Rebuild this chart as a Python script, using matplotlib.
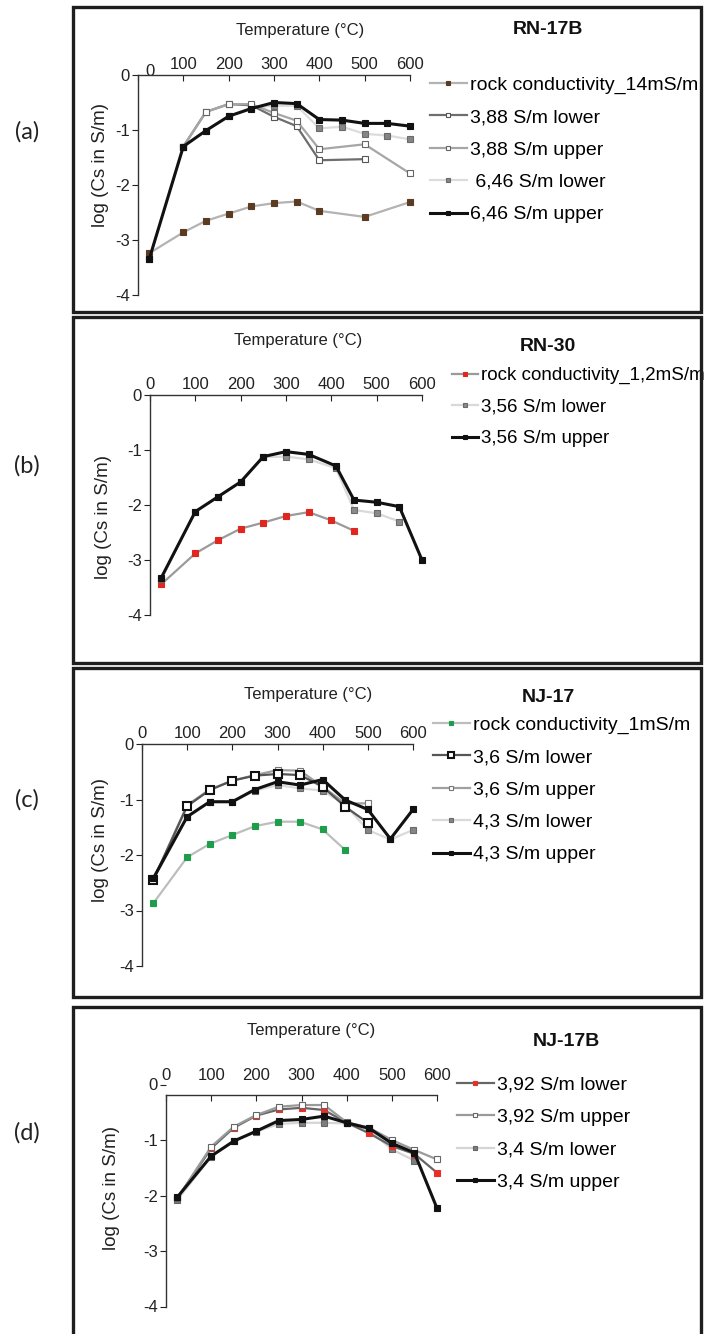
import matplotlib
matplotlib.use('Agg')
import matplotlib.pyplot as plt
from matplotlib.patches import Rectangle
from matplotlib.transforms import ScaledTranslation

plt.rcParams['font.family'] = ['Liberation Sans', 'DejaVu Sans']
plt.rcParams['axes.unicode_minus'] = False

# temperatures (°C)
temps = [25, 100, 150, 200, 250, 300, 350, 400, 450, 500, 550, 600]
temps_rn17b_rock = [25, 100, 150, 200, 250, 300, 350, 400, 500, 600]
temps_rn17b_388_low = [100, 150, 200, 250, 300, 350, 400, 500]
temps_rn17b_388_up = [100, 150, 200, 250, 300, 350, 400, 500, 600]
temps_rn30_356 = [25, 100, 150, 200, 250, 300, 350, 410, 450, 500, 550, 600]

# (a) RN-17B, log(Cs in S/m)
rn17b_rock = [-3.24, -2.86, -2.65, -2.52, -2.39, -2.33, -2.30, -2.47, -2.58, -2.31]
rn17b_388_low = [-1.30, -0.67, -0.53, -0.55, -0.76, -0.93, -1.55, -1.53]
rn17b_388_up = [-1.30, -0.67, -0.53, -0.53, -0.69, -0.83, -1.35, -1.26, -1.79]
rn17b_646_low = [-3.34, -1.30, -1.01, -0.75, -0.60, -0.56, -0.56, -0.97, -0.94, -1.07, -1.10, -1.17]
rn17b_646_up = [-3.34, -1.30, -1.01, -0.75, -0.61, -0.50, -0.52, -0.81, -0.82, -0.88, -0.88, -0.93]

# (b) RN-30
rn30_rock = [-3.44, -2.88, -2.64, -2.43, -2.32, -2.20, -2.13, -2.28, -2.47]
rn30_356_low = [-3.35, -2.12, -1.85, -1.58, -1.13, -1.12, -1.17, -1.33, -2.09, -2.15, -2.30]
rn30_356_up = [-3.32, -2.12, -1.85, -1.58, -1.12, -1.03, -1.08, -1.29, -1.91, -1.95, -2.03, -3.00]

# (c) NJ-17
nj17_rock = [-2.87, -2.04, -1.80, -1.64, -1.48, -1.40, -1.40, -1.54, -1.91]
nj17_36_low = [-2.45, -1.12, -0.83, -0.66, -0.57, -0.54, -0.56, -0.77, -1.13, -1.42]
nj17_36_up = [-2.45, -1.10, -0.82, -0.66, -0.56, -0.47, -0.48, -0.77, -1.07, -1.07]
nj17_43_low = [-2.45, -1.32, -1.05, -1.05, -0.84, -0.74, -0.80, -0.84, -1.10, -1.55, -1.72, -1.55]
nj17_43_up = [-2.42, -1.31, -1.04, -1.04, -0.82, -0.68, -0.74, -0.64, -1.01, -1.18, -1.71, -1.18]

# (d) NJ-17B
nj17b_392_low = [-2.05, -1.15, -0.78, -0.56, -0.45, -0.42, -0.46, -0.69, -0.88, -1.11, -1.25, -1.59]
nj17b_392_up = [-2.05, -1.12, -0.76, -0.55, -0.40, -0.37, -0.37, -0.68, -0.78, -1.00, -1.18, -1.35]
nj17b_34_low = [-2.08, -1.30, -1.02, -0.85, -0.71, -0.69, -0.69, -0.70, -0.82, -1.17, -1.37]
nj17b_34_up = [-2.03, -1.29, -1.02, -0.84, -0.65, -0.63, -0.57, -0.69, -0.79, -1.06, -1.23, -2.23]

xticks = [0, 100, 200, 300, 400, 500, 600]
yticks = [0, -1, -2, -3, -4]
ytick_labels = ['0', '-1', '-2', '-3', '-4']

W, H = 704, 1334
fig = plt.figure(figsize=(W / 100, H / 100), dpi=100)


def fx(x):
    return x / W


def fy(y):
    return 1 - y / H


def make_axes(left, right, top, bottom, xaxis_at=0, xpad=2):
    ax = fig.add_axes([fx(left), fy(bottom), (right - left) / W, (bottom - top) / H])
    ax.patch.set_alpha(0)
    ax.set_xlim(0, 600)
    ax.set_ylim(-4, 0)
    ax.xaxis.tick_top()
    ax.spines['right'].set_visible(False)
    ax.spines['bottom'].set_visible(False)
    for s in ('top', 'left'):
        ax.spines[s].set_color('#333333')
        ax.spines[s].set_linewidth(1.0)
    if xaxis_at != 0:
        ax.spines['top'].set_position(('data', xaxis_at))
        ax.spines['left'].set_bounds(-4, xaxis_at)
    ax.set_xticks(xticks)
    ax.set_yticks(yticks)
    ax.set_yticklabels(ytick_labels)
    ax.tick_params(axis='x', direction='in', length=4, pad=xpad, labelsize=12, colors='#222222')
    ax.tick_params(axis='y', direction='out', length=4, pad=2, labelsize=12, colors='#222222')
    return ax


def series(ax, x, y, line, face, edge=None, ms=5, lw=1.6, mew=0.8, label=None, z=2):
    ax.plot(x, y, color=line, lw=lw, marker='s', ms=ms, mfc=face,
            mec=edge if edge else face, mew=mew, label=label, zorder=z,
            clip_on=False)


def panel_box(x0, y0, x1, y1):
    fig.add_artist(Rectangle((fx(x0), fy(y1)), (x1 - x0) / W, (y1 - y0) / H,
                             transform=fig.transFigure, fill=False,
                             ec='#1e1e1e', lw=2.4))


def legend(ax, x, y, order, hl=1.9, fs=14):
    h, l = ax.get_legend_handles_labels()
    h = [h[i] for i in order]
    l = [l[i] for i in order]
    ax.legend(h, l, loc='upper left', bbox_to_anchor=(fx(x), fy(y)),
              bbox_transform=fig.transFigure, frameon=False, fontsize=fs,
              handlelength=hl, handletextpad=0.15, labelspacing=0.76,
              borderpad=0, borderaxespad=0, markerscale=0.7)


def decorate(ax, tag, tag_y, title, tx, ty, temp_x, temp_y, ylab_x, ylab_y):
    fig.text(fx(27), fy(tag_y), tag, fontsize=17, family=['Lato', 'DejaVu Sans'],
             ha='center', va='center', color='#222222')
    fig.text(fx(tx), fy(ty), title, fontsize=14, fontweight='bold',
             ha='center', va='center', color='#111111')
    fig.text(fx(temp_x), fy(temp_y), 'Temperature (°C)', fontsize=12,
             ha='center', va='center', color='#222222')
    fig.text(fx(ylab_x), fy(ylab_y), 'log (Cs in S/m)', fontsize=13.5,
             rotation=90, ha='center', va='center', color='#222222')


# ---- (a) RN-17B
panel_box(73, 7, 701, 312)
ax = make_axes(138, 410, 75, 295)
series(ax, temps_rn17b_rock, rn17b_rock, '#b3b3b3', '#5b3b22', label='rock conductivity_14mS/m')
series(ax, temps, rn17b_646_low, '#dcdcdc', '#858585', '#6a6a6a', label=' 6,46 S/m lower')
series(ax, temps_rn17b_388_low, rn17b_388_low, '#6e6e6e', 'white', '#555555', label='3,88 S/m lower')
series(ax, temps_rn17b_388_up, rn17b_388_up, '#a6a6a6', 'white', '#666666', label='3,88 S/m upper')
series(ax, temps, rn17b_646_up, '#111111', '#111111', lw=2.2, label='6,46 S/m upper', z=3)
legend(ax, 430, 76, [0, 2, 3, 1, 4])
lab0 = ax.get_xticklabels()[0]
lab0.set_transform(lab0.get_transform() + ScaledTranslation(9 / 72, -5 / 72, fig.dpi_scale_trans))
decorate(ax, '(a)', 132, 'RN-17B', 548, 30, 300, 30, 100, 165)

# ---- (b) RN-30
panel_box(73, 317, 701, 663)
ax = make_axes(150, 422, 395, 615)
series(ax, temps[:9], rn30_rock, '#9a9a9a', '#e0261f', label='rock conductivity_1,2mS/m')
series(ax, temps_rn30_356[:11], rn30_356_low, '#d9d9d9', '#8a8a8a', '#6a6a6a', label='3,56 S/m lower')
series(ax, temps_rn30_356, rn30_356_up, '#111111', '#111111', lw=2.2, label='3,56 S/m upper', z=3)
legend(ax, 452, 367, [0, 1, 2], hl=1.4, fs=13.5)
decorate(ax, '(b)', 466, 'RN-30', 548, 346, 298, 340, 103, 517)

# ---- (c) NJ-17
panel_box(73, 668, 701, 997)
ax = make_axes(142, 413, 744, 966)
series(ax, temps[:9], nj17_rock, '#bdbdbd', '#1e9e4a', label='rock conductivity_1mS/m')
series(ax, temps, nj17_43_low, '#dadada', '#858585', '#6a6a6a', label='4,3 S/m lower')
series(ax, temps[:10], nj17_36_up, '#a0a0a0', 'white', '#777777', label='3,6 S/m upper')
series(ax, temps[:10], nj17_36_low, '#555555', 'white', '#111111', ms=5.6, mew=1.5, label='3,6 S/m lower')
series(ax, temps, nj17_43_up, '#111111', '#111111', lw=2.2, label='4,3 S/m upper', z=3)
legend(ax, 433, 716, [0, 3, 2, 1, 4])
decorate(ax, '(c)', 800, 'NJ-17', 548, 697, 308, 695, 100, 840)

# ---- (d) NJ-17B
panel_box(73, 1007, 701, 1345)
ax = make_axes(166, 437, 1084.5, 1306.5, xaxis_at=-0.19, xpad=9)
series(ax, temps[:11], nj17b_34_low, '#d5d5d5', '#7d7d7d', '#666666', label='3,4 S/m lower')
series(ax, temps, nj17b_392_low, '#666666', '#e8302a', label='3,92 S/m lower')
series(ax, temps, nj17b_392_up, '#9a9a9a', 'white', '#666666', label='3,92 S/m upper')
series(ax, temps, nj17b_34_up, '#111111', '#111111', lw=2.2, label='3,4 S/m upper', z=3)
legend(ax, 457, 1076, [1, 2, 0, 3])
decorate(ax, '(d)', 1133, 'NJ-17B', 566, 1042, 311, 1030, 112, 1188)

fig.savefig('out.png', dpi=100)
